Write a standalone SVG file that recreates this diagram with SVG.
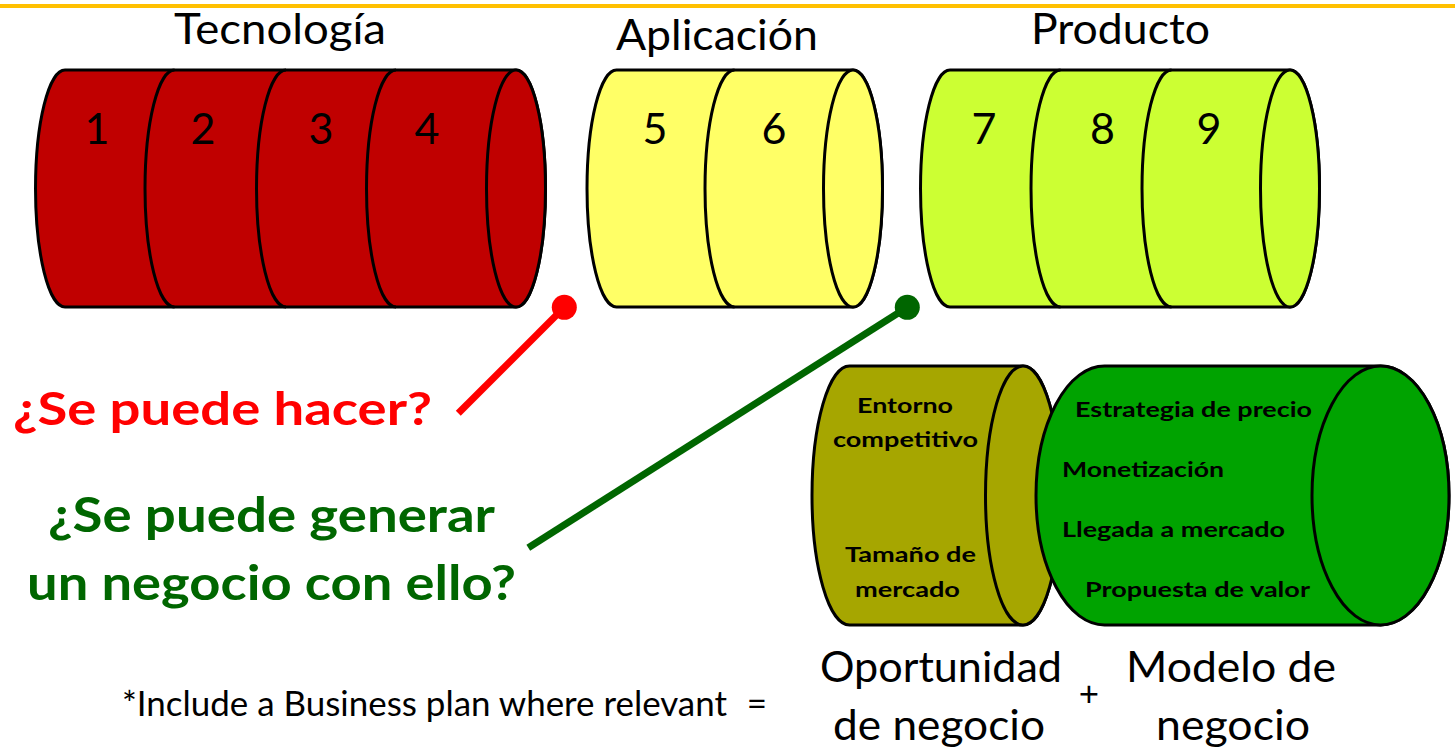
<svg xmlns="http://www.w3.org/2000/svg" width="1455" height="749" viewBox="0 0 1455 749">
<style>
  .cyl { stroke: #000; stroke-width: 3; stroke-linejoin: round; }
  .div { fill: none; stroke: #000; stroke-width: 3; }
  .red { fill: #C00000; }
  .yel { fill: #FFFF66; }
  .lim { fill: #CCFF33; }
  .olv { fill: #A6A600; }
  .grn { fill: #00A300; }
  .lbl { font-family: Lato, "Liberation Sans", sans-serif; font-size: 43px; fill: #000; }
  .num { font-family: Lato, "Liberation Sans", sans-serif; font-size: 43px; fill: #000; text-anchor: middle; }
  .box { font-family: Lato, "Liberation Sans", sans-serif; font-size: 21.5px; font-weight: bold; fill: #000; }
  .q { font-family: Lato, "Liberation Sans", sans-serif; font-weight: bold; }
  .foot { font-family: Lato, "Liberation Sans", sans-serif; font-size: 35px; fill: #000; }
</style>
<rect x="0" y="4" width="1455" height="4" fill="#FFC000"/>

<g id="tecnologia">
  <text class="lbl" x="174" y="44" textLength="212" lengthAdjust="spacingAndGlyphs">Tecnología</text>
  <path class="cyl red" d="M65 70 L516 70 A29.5 118.5 0 0 1 516 307 L65 307 A29.5 118.5 0 0 1 65 70 Z"/>
  <path class="div" d="M174.5 70 A29.5 118.5 0 0 0 174.5 307 M286 70 A29.5 118.5 0 0 0 286 307 M396 70 A29.5 118.5 0 0 0 396 307"/>
  <ellipse class="cyl red" cx="516" cy="188.5" rx="29.5" ry="118.5"/>
  <text class="num" x="97" y="144">1</text>
  <text class="num" x="203" y="144">2</text>
  <text class="num" x="321" y="144">3</text>
  <text class="num" x="427" y="144">4</text>
</g>

<g id="aplicacion">
  <text class="lbl" x="616" y="50" textLength="202" lengthAdjust="spacingAndGlyphs">Aplicación</text>
  <path class="cyl yel" d="M616.5 70 L853 70 A29.5 118.5 0 0 1 853 307 L616.5 307 A29.5 118.5 0 0 1 616.5 70 Z"/>
  <path class="div" d="M734.5 70 A29.5 118.5 0 0 0 734.5 307"/>
  <ellipse class="cyl yel" cx="853" cy="188.5" rx="29.5" ry="118.5"/>
  <text class="num" x="655" y="144">5</text>
  <text class="num" x="774" y="144">6</text>
</g>

<g id="producto">
  <text class="lbl" x="1031" y="44" textLength="179" lengthAdjust="spacingAndGlyphs">Producto</text>
  <path class="cyl lim" d="M950 70 L1290 70 A29.5 118.5 0 0 1 1290 307 L950 307 A29.5 118.5 0 0 1 950 70 Z"/>
  <path class="div" d="M1060.5 70 A29.5 118.5 0 0 0 1060.5 307 M1171.5 70 A29.5 118.5 0 0 0 1171.5 307"/>
  <ellipse class="cyl lim" cx="1290" cy="188.5" rx="29.5" ry="118.5"/>
  <text class="num" x="984" y="144">7</text>
  <text class="num" x="1102.5" y="144">8</text>
  <text class="num" x="1209" y="144">9</text>
</g>

<g id="oportunidad">
  <path class="cyl olv" d="M849.5 366 L1023 366 A37.5 129.5 0 0 1 1023 625 L849.5 625 A37.5 129.5 0 0 1 849.5 366 Z"/>
  <ellipse class="cyl olv" cx="1023" cy="495.5" rx="37.5" ry="129.5"/>
  <text class="box" x="857" y="413" textLength="96" lengthAdjust="spacingAndGlyphs">Entorno</text>
  <text class="box" x="833" y="447" textLength="145" lengthAdjust="spacingAndGlyphs">competitivo</text>
  <text class="box" x="845" y="562" textLength="131" lengthAdjust="spacingAndGlyphs">Tamaño de</text>
  <text class="box" x="855" y="597" textLength="105" lengthAdjust="spacingAndGlyphs">mercado</text>
</g>

<g id="modelo">
  <path class="cyl grn" d="M1104.5 366 L1380.5 366 A68.5 129.5 0 0 1 1380.5 625 L1104.5 625 A68.5 129.5 0 0 1 1104.5 366 Z"/>
  <ellipse class="cyl grn" cx="1380.5" cy="495.5" rx="68.5" ry="129.5"/>
  <text class="box" x="1075" y="417" textLength="237" lengthAdjust="spacingAndGlyphs">Estrategia de precio</text>
  <text class="box" x="1062" y="477" textLength="162" lengthAdjust="spacingAndGlyphs">Monetización</text>
  <text class="box" x="1062" y="537" textLength="223" lengthAdjust="spacingAndGlyphs">Llegada a mercado</text>
  <text class="box" x="1085" y="597" textLength="225" lengthAdjust="spacingAndGlyphs">Propuesta de valor</text>
</g>

<g id="connectors">
  <line x1="458.3" y1="413.3" x2="564.3" y2="307.3" stroke="#FF0000" stroke-width="7"/>
  <circle cx="564.3" cy="307.3" r="12.5" fill="#FF0000"/>
  <line x1="528.3" y1="547.7" x2="907.3" y2="307.3" stroke="#006600" stroke-width="7"/>
  <circle cx="907.3" cy="307.3" r="12.5" fill="#006600"/>
</g>

<g id="preguntas">
  <text class="q" x="13" y="425" font-size="45" fill="#FF0000" textLength="419" lengthAdjust="spacingAndGlyphs">¿Se puede hacer?</text>
  <text class="q" x="48" y="532" font-size="47" fill="#006600" textLength="447" lengthAdjust="spacingAndGlyphs">¿Se puede generar</text>
  <text class="q" x="27" y="600" font-size="47" fill="#006600" textLength="489" lengthAdjust="spacingAndGlyphs">un negocio con ello?</text>
</g>

<g id="pie">
  <text class="foot" x="122" y="716" textLength="605" lengthAdjust="spacingAndGlyphs">*Include a Business plan where relevant</text>
  <text class="foot" x="757" y="716" text-anchor="middle">=</text>
  <text class="lbl" x="820" y="682" textLength="242" lengthAdjust="spacingAndGlyphs">Oportunidad</text>
  <text class="lbl" x="833" y="740" textLength="212" lengthAdjust="spacingAndGlyphs">de negocio</text>
  <text class="foot" x="1089" y="706" font-size="24" text-anchor="middle">+</text>
  <text class="lbl" x="1126" y="682" textLength="210" lengthAdjust="spacingAndGlyphs">Modelo de</text>
  <text class="lbl" x="1156" y="740" textLength="154" lengthAdjust="spacingAndGlyphs">negocio</text>
</g>
</svg>
